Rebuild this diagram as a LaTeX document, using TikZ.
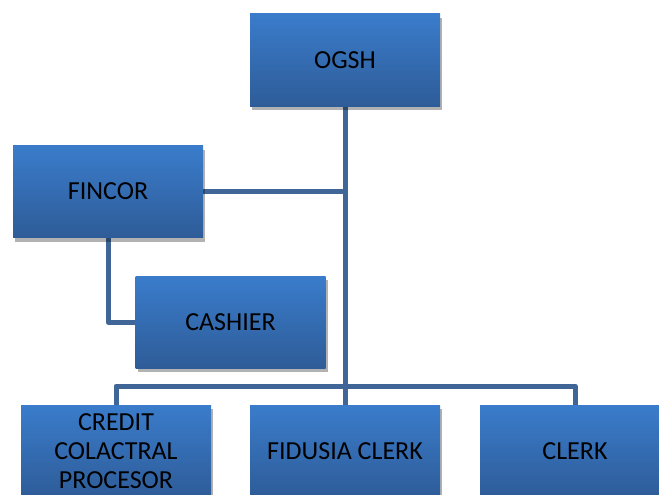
\documentclass[tikz,border=0pt]{standalone}
\usepackage{fontspec}
\setmainfont{Carlito}
\usetikzlibrary{shadows,backgrounds}
\definecolor{boxtop}{RGB}{58,124,203}
\definecolor{boxbot}{RGB}{46,92,152}
\definecolor{linkcol}{RGB}{64,102,152}
\tikzset{
  post/.style={rectangle, minimum width=190pt, minimum height=92pt,
    top color=boxtop, bottom color=boxbot, text=black, align=center,
    font=\fontsize{26}{29}\selectfont,
    drop shadow={shadow xshift=2pt, shadow yshift=-4pt, opacity=0.3, fill=black}},
  link/.style={draw=linkcol, line width=5pt, line join=round}
}
\begin{document}
\begin{tikzpicture}[x=1pt,y=-1pt]
    \useasboundingbox (0,0) rectangle (659,495);
    % Top of the chart
    \node[post] (ogsh) at (345,60) {OGSH};
    % Finance side
    \node[post] (fincor) at (108,191.5) {FINCOR};
    \node[post] (cashier) at (230.5,322) {CASHIER};
    % Bottom row
    \node[post] (credit) at (116,451) {CREDIT\\COLACTRAL\\PROCESOR};
    \node[post] (fidusia) at (345,451) {FIDUSIA CLERK};
    \node[post] (clerk) at (575,451) {CLERK};
    \coordinate (bus) at (345,386);
    % Links behind the boxes
    \begin{scope}[on background layer]
      \draw[link] (ogsh.south) -- (bus);
      \draw[link] (fincor.east) -- (fincor.east -| ogsh.south);
      \draw[link] (fincor.south) |- (cashier.west);
      \draw[link] (credit.north) |- (bus) -| (clerk.north);
      \draw[link] (fidusia.north) -- (bus);
    \end{scope}
\end{tikzpicture}
\end{document}
